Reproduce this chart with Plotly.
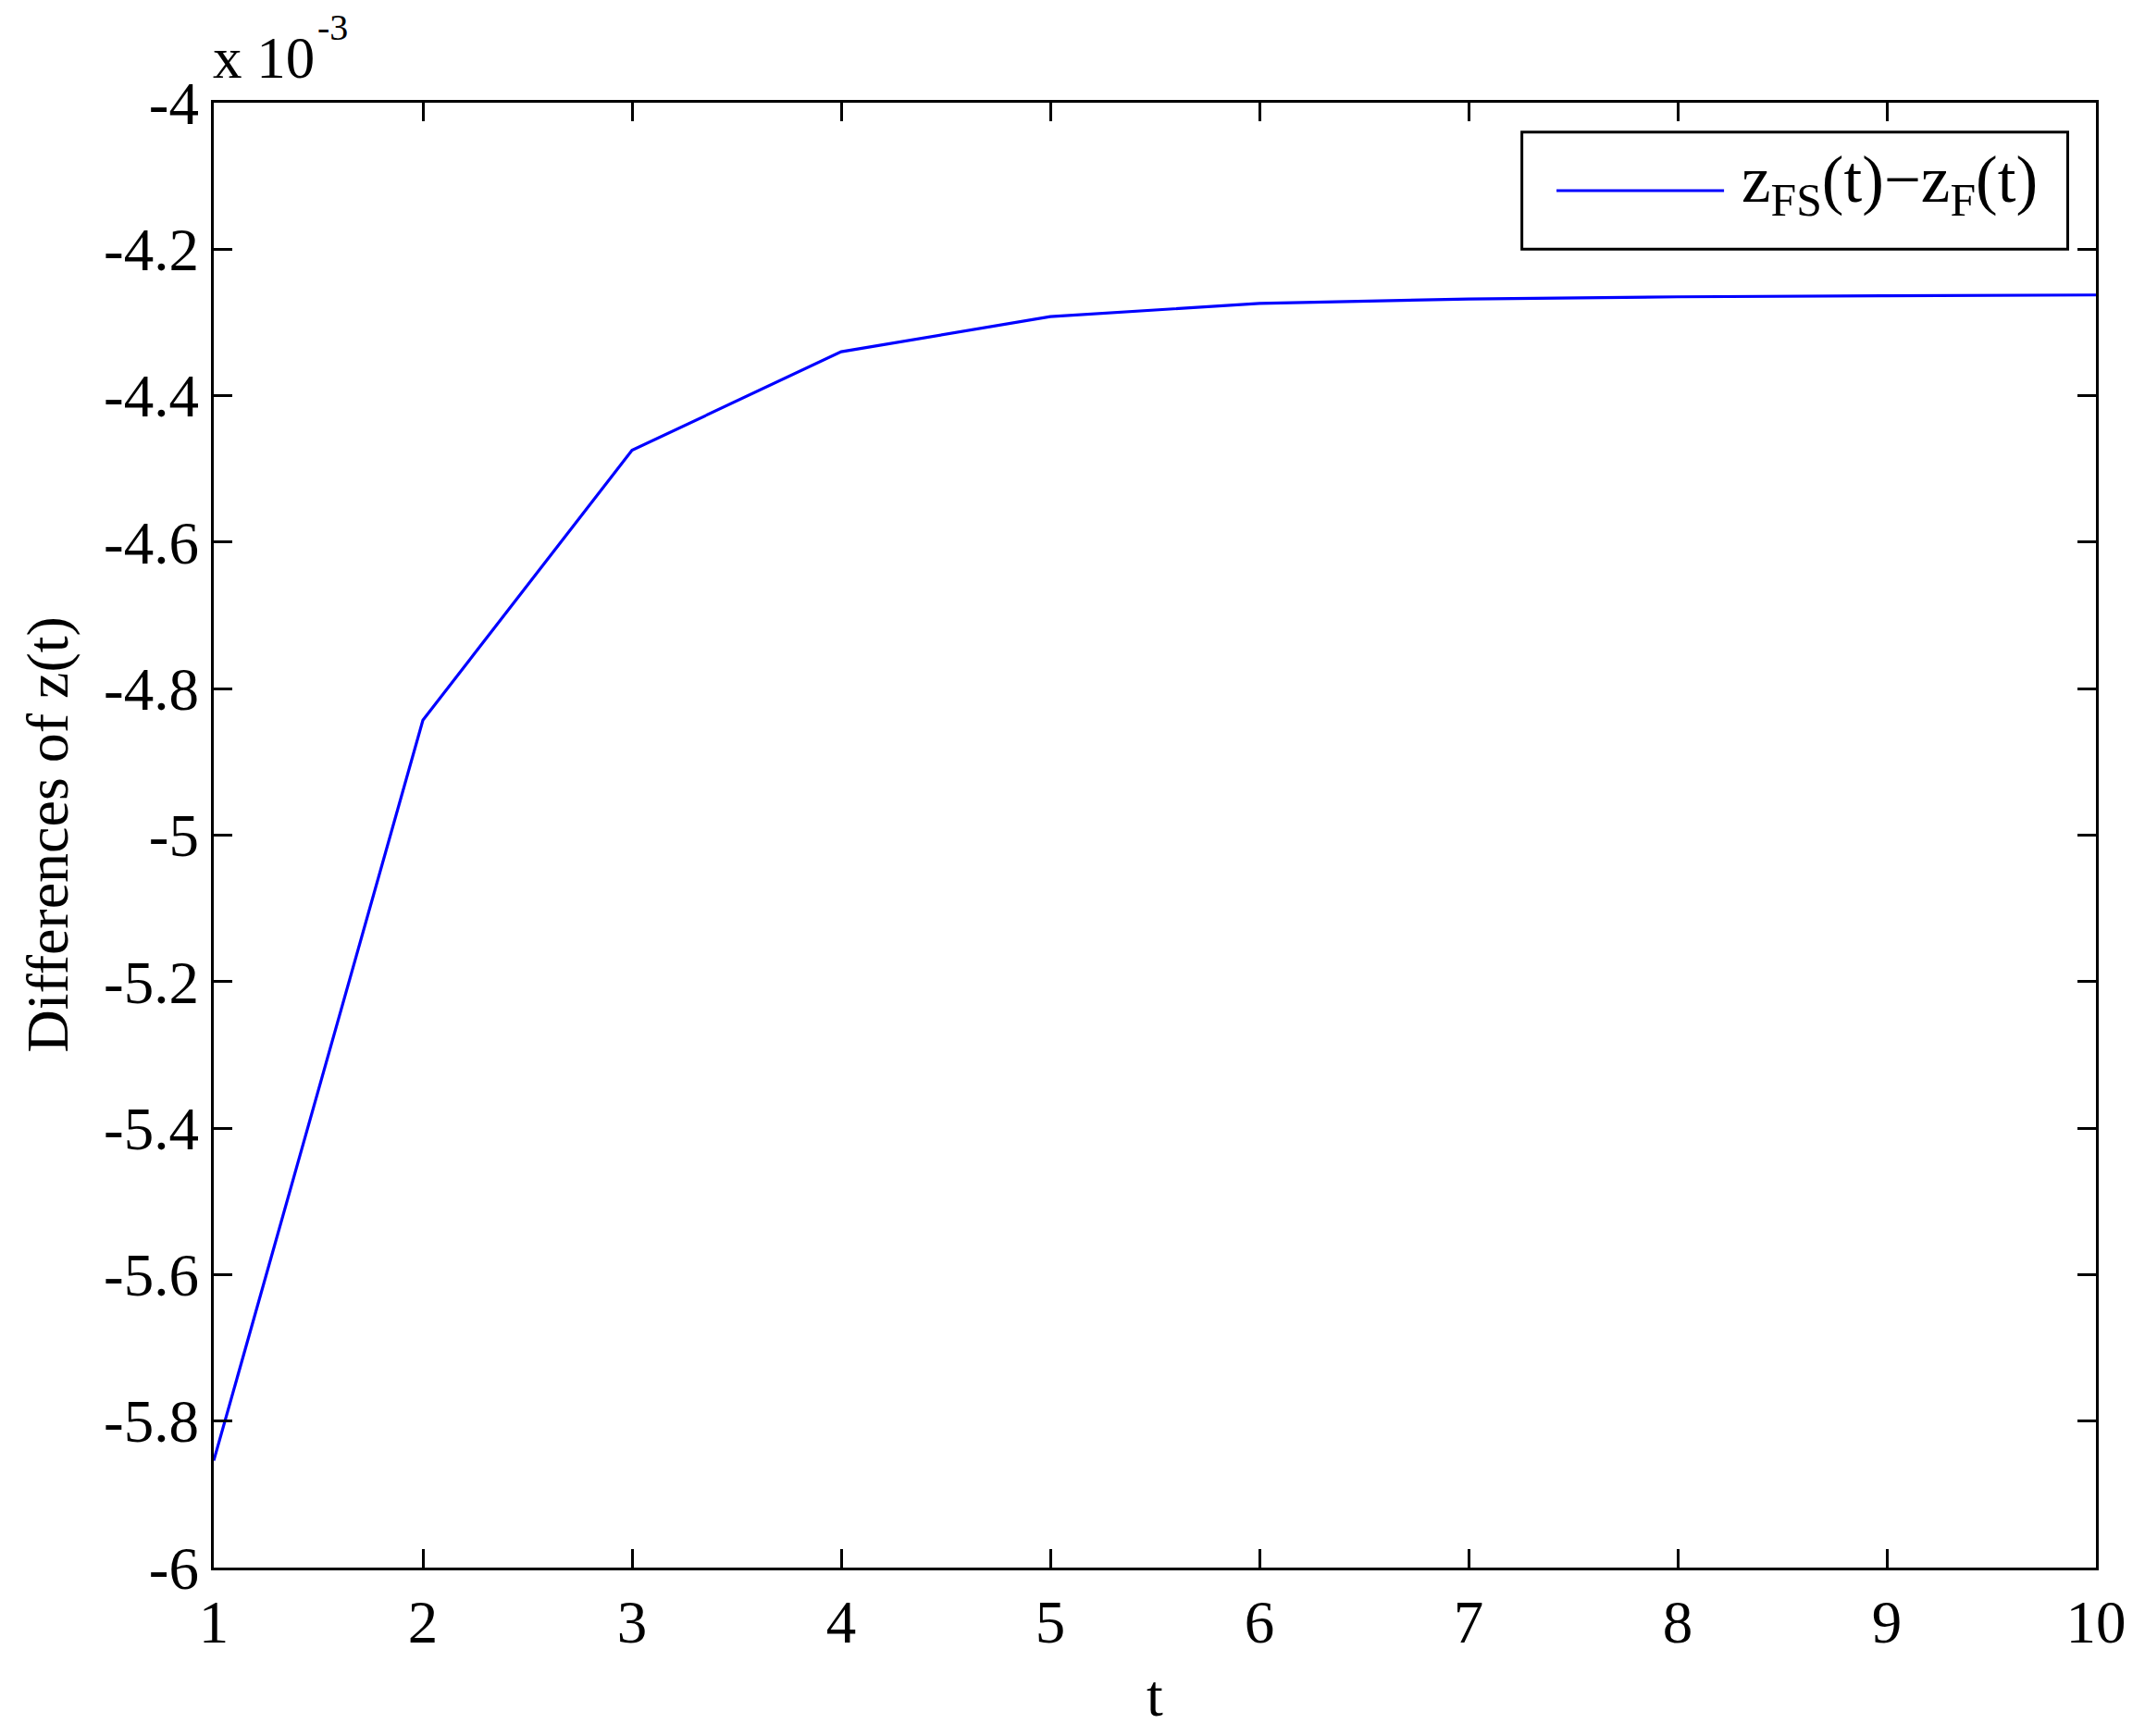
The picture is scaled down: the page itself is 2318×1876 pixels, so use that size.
import plotly.graph_objects as go

# Data (values in units of 1e-3)
t_values = [1, 2, 3, 4, 5, 6, 7, 8, 9, 10]
diff_values = [-5.854, -4.843, -4.4745, -4.340, -4.292, -4.274, -4.268, -4.265, -4.2635, -4.2625]

x_tick_vals = [1, 2, 3, 4, 5, 6, 7, 8, 9, 10]
x_tick_text = ["1", "2", "3", "4", "5", "6", "7", "8", "9", "10"]
y_tick_vals = [-6, -5.8, -5.6, -5.4, -5.2, -5, -4.8, -4.6, -4.4, -4.2, -4]
y_tick_text = ["-6", "-5.8", "-5.6", "-5.4", "-5.2", "-5", "-4.8", "-4.6", "-4.4", "-4.2", "-4"]

legend_label = "z<sub>FS</sub>(t)\u2212z<sub>F</sub>(t)"
scale_base = "x 10"
scale_exp = "-3"
x_title = "t"
y_title = "Differences of z(t)"

FONT = "Liberation Serif, Times New Roman, serif"
# page body has an 8px margin, so the figure is sized to the remaining viewport
W, H = 2302, 1860
L, R, T, B = 223, 45, 103, 174

fig = go.Figure()
fig.add_trace(go.Scatter(
    x=t_values, y=diff_values, mode="lines",
    line=dict(color="#0000FF", width=3.2),
    name=legend_label, showlegend=False,
))

axis_common = dict(
    showline=True, linecolor="black", linewidth=3,
    mirror="ticks", ticks="inside", ticklen=20, tickwidth=3, tickcolor="black",
    showgrid=False, zeroline=False,
    tickfont=dict(family=FONT, size=65, color="black"),
)

fig.update_xaxes(range=[1, 10], tickvals=x_tick_vals, ticktext=x_tick_text, **axis_common)
fig.update_yaxes(range=[-6, -4], tickvals=y_tick_vals, ticktext=y_tick_text, **axis_common)

# Axis titles
fig.add_annotation(xref="paper", yref="paper", x=0.5, y=0, xanchor="center", yanchor="middle",
                   yshift=-138, text=x_title, showarrow=False,
                   font=dict(family=FONT, size=64, color="black"))
fig.add_annotation(xref="paper", yref="paper", x=0, y=0.5, xanchor="center", yanchor="middle",
                   xshift=-180, textangle=-90, text=y_title, showarrow=False,
                   font=dict(family=FONT, size=64, color="black"))

# Manual legend box (MATLAB-style)
lx0, lx1, ly0, ly1 = 0.695, 0.985, 0.900, 0.980
fig.add_shape(type="rect", xref="paper", yref="paper", x0=lx0, x1=lx1, y0=ly0, y1=ly1,
              line=dict(color="black", width=3), fillcolor="white", layer="above")
fig.add_shape(type="line", xref="paper", yref="paper", x0=0.7134, x1=0.8024, y0=0.940, y1=0.940,
              line=dict(color="#0000FF", width=3.2), layer="above")
fig.add_annotation(xref="paper", yref="paper", x=0.8105, y=0.944, xanchor="left", yanchor="middle",
                   text=legend_label, showarrow=False,
                   font=dict(family=FONT, size=71, color="black"))

# Exponent label (MATLAB style "x 10^-3")
fig.add_annotation(xref="paper", yref="paper", x=0, y=1, xanchor="left", yanchor="bottom",
                   yshift=11, xshift=-3, text=scale_base, showarrow=False,
                   font=dict(family=FONT, size=63, color="black"))
fig.add_annotation(xref="paper", yref="paper", x=0, y=1, xanchor="left", yanchor="bottom",
                   yshift=57, xshift=110, text=scale_exp, showarrow=False,
                   font=dict(family=FONT, size=40, color="black"))

fig.update_layout(
    width=W, height=H,
    margin=dict(l=L, r=R, t=T, b=B, pad=0),
    paper_bgcolor="white", plot_bgcolor="white",
    font=dict(family=FONT, size=64, color="black"),
    showlegend=False,
)

fig.write_html("out.html")
